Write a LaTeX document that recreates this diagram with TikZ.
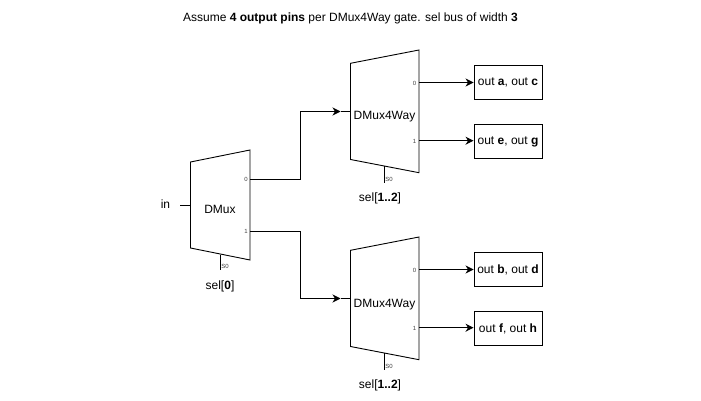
\documentclass[tikz,border=0pt]{standalone}
\usepackage{fontspec}
\setmainfont{Liberation Sans}
\usetikzlibrary{arrows.meta}

\begin{document}
\begin{tikzpicture}
    [x=1pt,y=-1pt,
    Mux/.style={draw=black,line width=0.9pt,line join=miter},
    wire/.style={draw=black,line width=0.9pt},
    arrow wire/.style={wire,-{Stealth[length=8pt,width=8pt,inset=2.5pt]}},
    OutBox/.style={draw=black,line width=0.9pt,minimum width=68pt,minimum height=34pt,inner sep=0pt,font=\fontsize{12}{14}\selectfont},
    MuxText/.style={font=\fontsize{12}{14}\selectfont,inner sep=0pt,text height=8.6pt,text depth=0pt},
    PinText/.style={font=\fontsize{6}{7}\selectfont,text=black!75,inner sep=0pt},
    ]
    \useasboundingbox (0,0) rectangle (701,401);

    %title
    \node[MuxText] (Title) at (350.5,17) {Assume \textbf{4 output pins} per DMux4Way gate. sel bus of width \textbf{3}};

    %first DMux
    \coordinate (InEnd) at (180,205);
    \coordinate (RootIn) at (190.5,205);
    \coordinate (RootOutA) at (250,179);
    \coordinate (RootOutB) at (250,231);
    \draw[Mux] (190.5,162) -- (250,150) -- (250,260) -- (190.5,248) -- cycle;
    \node[MuxText] (RootName) at (220,209.5) {DMux};
    \node[MuxText] (InName) at (165.5,204.5) {in};
    \node[PinText] (RootPinA) at (246,179.5) {0};
    \node[PinText] (RootPinB) at (246,231.5) {1};
    \coordinate (RootSelTop) at (220.5,254.5);
    \coordinate (RootSelEnd) at (220.5,270);
    \draw[wire] (RootSelTop) -- (RootSelEnd);
    \node[PinText] (RootPinS) at (225,266) {S0};
    \node[MuxText] (RootSel) at (220,284.7) {sel[\textbf{0}]};
    \draw[wire] (InEnd) -- (RootIn);

    %two DMux4Way gates
    \foreach \name/\dy/\outA/\outB in {Top/0/{out \textbf{a}, out \textbf{c}}/{out \textbf{e}, out \textbf{g}},
        Low/187/{out \textbf{b}, out \textbf{d}}/{out \textbf{f}, out \textbf{h}}}{
        \begin{scope}[yshift=-\dy pt]
        \draw[Mux] (350.5,63.3) -- (419,50) -- (419,172.7) -- (350.5,159.5) -- cycle;
        \coordinate (\name In) at (350.5,111.5);
        \coordinate (\name Tip) at (340.5,111.5);
        \coordinate (\name OutA) at (419,82.5);
        \coordinate (\name OutB) at (419,140.7);
        \node[MuxText] (\name Name) at (384.5,115.7) {DMux4Way};
        \node[PinText] (\name PinA) at (414.5,83) {0};
        \node[PinText] (\name PinB) at (414.5,141) {1};
        \coordinate (\name SelTop) at (384.5,166);
        \coordinate (\name SelEnd) at (384.5,182.5);
        \draw[wire] (\name SelTop) -- (\name SelEnd);
        \node[PinText] (\name PinS) at (389,179) {S0};
        \node[MuxText] (\name Sel) at (380,197.4) {sel[\textbf{1..2}]};
        \node[OutBox] (\name BoxA) at (508,82.5) {\outA};
        \node[OutBox] (\name BoxB) at (508,141.5) {\outB};
        \draw[arrow wire] (\name OutA) -- (\name BoxA);
        \draw[arrow wire] (\name OutB) -- (\name BoxB.west |- \name OutB);
        \end{scope}
    }

    %from first DMux to the gates
    \coordinate (BendTop) at (300.3,179);
    \coordinate (BendLow) at (300.3,231);
    \draw[arrow wire] (RootOutA) -- (BendTop) |- (TopTip);
    \draw[wire] (TopTip) -- (TopIn);
    \draw[arrow wire] (RootOutB) -- (BendLow) |- (LowTip);
    \draw[wire] (LowTip) -- (LowIn);

    \end{tikzpicture}
\end{document}
